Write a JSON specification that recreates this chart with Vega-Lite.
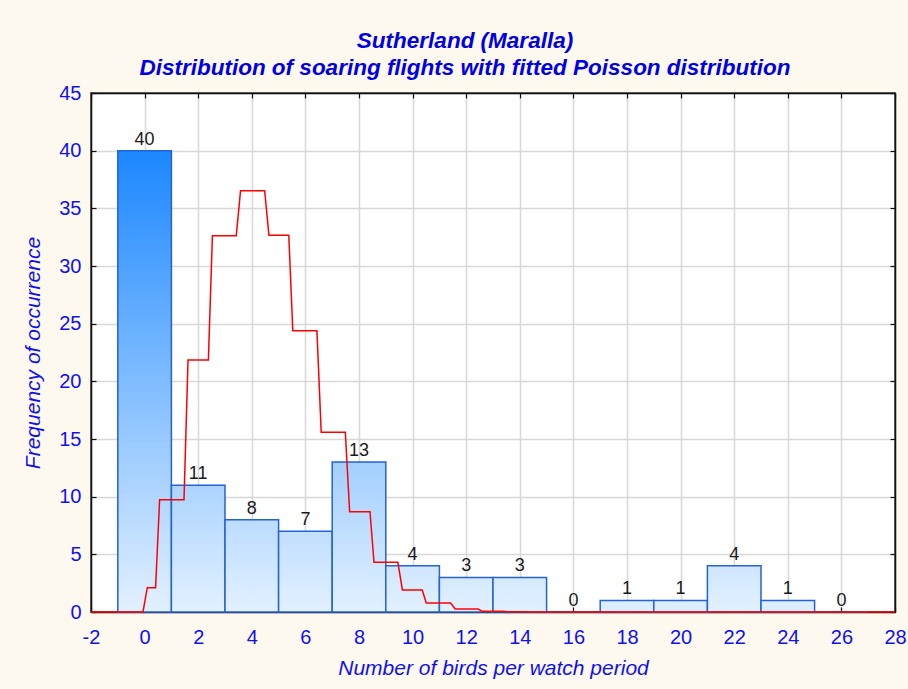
{
  "$schema": "https://vega.github.io/schema/vega-lite/v6.json",
  "autosize": {"type": "none"},
  "width": 804,
  "height": 519,
  "padding": {"left": 91, "top": 93, "right": 13, "bottom": 77},
  "background": "#FEF9EE",
  "title": {
    "text": ["Sutherland (Maralla)", "Distribution of soaring flights with fitted Poisson distribution"],
    "font": "Liberation Sans",
    "fontSize": 22.5,
    "fontStyle": "italic",
    "fontWeight": "bold",
    "color": "#0000E6",
    "anchor": "middle",
    "frame": "group",
    "dx": -28,
    "lineHeight": 27,
    "baseline": "bottom",
    "offset": -19
  },
  "config": {
    "view": {"fill": "white", "stroke": "#111111", "strokeWidth": 1.5},
    "axis": {
      "labelFont": "Liberation Sans",
      "labelFontSize": 20,
      "labelColor": "#1010F0",
      "titleFont": "Liberation Sans",
      "titleFontSize": 21,
      "titleFontStyle": "italic",
      "titleFontWeight": "normal",
      "titleColor": "#1010F0",
      "domainColor": "#111111",
      "domainWidth": 1.5,
      "tickColor": "#111111",
      "tickWidth": 1.2,
      "tickSize": -5,
      "gridColor": "#D8D8D8",
      "gridWidth": 1.5
    }
  },
  "datasets": {
    "bins": [
      {"mid": 0, "lo": -1, "hi": 1, "count": 40},
      {"mid": 2, "lo": 1, "hi": 3, "count": 11},
      {"mid": 4, "lo": 3, "hi": 5, "count": 8},
      {"mid": 6, "lo": 5, "hi": 7, "count": 7},
      {"mid": 8, "lo": 7, "hi": 9, "count": 13},
      {"mid": 10, "lo": 9, "hi": 11, "count": 4},
      {"mid": 12, "lo": 11, "hi": 13, "count": 3},
      {"mid": 14, "lo": 13, "hi": 15, "count": 3},
      {"mid": 16, "lo": 15, "hi": 17, "count": 0},
      {"mid": 18, "lo": 17, "hi": 19, "count": 1},
      {"mid": 20, "lo": 19, "hi": 21, "count": 1},
      {"mid": 22, "lo": 21, "hi": 23, "count": 4},
      {"mid": 24, "lo": 23, "hi": 25, "count": 1},
      {"mid": 26, "lo": 25, "hi": 27, "count": 0}
    ],
    "poisson": [
      {"x": -2, "y": 0}, {"x": -0.06, "y": 0},
      {"x": 0.10, "y": 2.11}, {"x": 0.41, "y": 2.11},
      {"x": 0.56, "y": 9.74}, {"x": 1.47, "y": 9.74},
      {"x": 1.62, "y": 21.85}, {"x": 2.38, "y": 21.85},
      {"x": 2.53, "y": 32.63}, {"x": 3.42, "y": 32.63},
      {"x": 3.58, "y": 36.53}, {"x": 4.48, "y": 36.53},
      {"x": 4.64, "y": 32.66}, {"x": 5.38, "y": 32.66},
      {"x": 5.53, "y": 24.39}, {"x": 6.43, "y": 24.39},
      {"x": 6.59, "y": 15.58}, {"x": 7.49, "y": 15.58},
      {"x": 7.65, "y": 8.70}, {"x": 8.41, "y": 8.70},
      {"x": 8.56, "y": 4.31}, {"x": 9.45, "y": 4.31},
      {"x": 9.62, "y": 1.91}, {"x": 10.36, "y": 1.91},
      {"x": 10.51, "y": 0.78}, {"x": 11.42, "y": 0.78},
      {"x": 11.59, "y": 0.26}, {"x": 12.44, "y": 0.26},
      {"x": 12.61, "y": 0.06}, {"x": 13.36, "y": 0.06},
      {"x": 13.54, "y": 0.02}, {"x": 14.25, "y": 0.02},
      {"x": 14.4, "y": 0}, {"x": 28, "y": 0}
    ]
  },
  "resolve": {"axis": {"x": "independent", "y": "independent"}},
  "layer": [
    {
      "data": {"name": "bins"},
      "mark": {"type": "rect", "stroke": "#2462D8", "strokeWidth": 1.5},
      "encoding": {
        "x": {
          "field": "lo", "type": "quantitative",
          "scale": {"domain": [-2, 28], "nice": false, "zero": false},
          "axis": {
            "orient": "bottom",
            "values": [-2, 0, 2, 4, 6, 8, 10, 12, 14, 16, 18, 20, 22, 24, 26, 28],
            "labelExpr": "datum.value < 0 ? '-' + abs(datum.value) : datum.label",
            "labelPadding": 20,
            "labelFlush": false,
            "title": "Number of birds per watch period",
            "titlePadding": 10
          }
        },
        "x2": {"field": "hi"},
        "y": {
          "field": "count", "type": "quantitative",
          "scale": {"domain": [0, 45], "nice": false},
          "axis": {
            "orient": "left",
            "values": [0, 5, 10, 15, 20, 25, 30, 35, 40, 45],
            "labelPadding": 15,
            "labelFlush": false,
            "title": "Frequency of occurrence",
            "titlePadding": 15
          }
        },
        "y2": {"datum": 0},
        "fill": {
          "condition": [
            {"test": "datum.count === 40", "value": {"gradient": "linear", "x1": 0, "y1": 0, "x2": 0, "y2": 1, "stops": [{"offset": 0, "color": "#1C87FF"}, {"offset": 1, "color": "#E3F1FF"}]}},
            {"test": "datum.count === 13", "value": {"gradient": "linear", "x1": 0, "y1": -2.077, "x2": 0, "y2": 1, "stops": [{"offset": 0, "color": "#1C87FF"}, {"offset": 1, "color": "#E3F1FF"}]}},
            {"test": "datum.count === 11", "value": {"gradient": "linear", "x1": 0, "y1": -2.636, "x2": 0, "y2": 1, "stops": [{"offset": 0, "color": "#1C87FF"}, {"offset": 1, "color": "#E3F1FF"}]}},
            {"test": "datum.count === 8", "value": {"gradient": "linear", "x1": 0, "y1": -4, "x2": 0, "y2": 1, "stops": [{"offset": 0, "color": "#1C87FF"}, {"offset": 1, "color": "#E3F1FF"}]}},
            {"test": "datum.count === 7", "value": {"gradient": "linear", "x1": 0, "y1": -4.714, "x2": 0, "y2": 1, "stops": [{"offset": 0, "color": "#1C87FF"}, {"offset": 1, "color": "#E3F1FF"}]}},
            {"test": "datum.count === 4", "value": {"gradient": "linear", "x1": 0, "y1": -9, "x2": 0, "y2": 1, "stops": [{"offset": 0, "color": "#1C87FF"}, {"offset": 1, "color": "#E3F1FF"}]}},
            {"test": "datum.count === 3", "value": {"gradient": "linear", "x1": 0, "y1": -12.333, "x2": 0, "y2": 1, "stops": [{"offset": 0, "color": "#1C87FF"}, {"offset": 1, "color": "#E3F1FF"}]}}
          ],
          "value": "#DDEEFF"
        }
      }
    },
    {
      "data": {"name": "bins"},
      "mark": {"type": "text", "font": "Liberation Sans", "fontSize": 18, "color": "#1A1A1A", "baseline": "alphabetic", "dy": -6},
      "encoding": {
        "x": {"field": "mid", "type": "quantitative", "axis": null},
        "y": {"field": "count", "type": "quantitative", "axis": null},
        "text": {"field": "count", "type": "quantitative"}
      }
    },
    {
      "data": {"name": "poisson"},
      "mark": {"type": "line", "color": "#FF0000", "strokeWidth": 1.5, "interpolate": "linear"},
      "encoding": {
        "x": {
          "field": "x", "type": "quantitative",
          "axis": {"orient": "top", "values": [-2, 0, 2, 4, 6, 8, 10, 12, 14, 16, 18, 20, 22, 24, 26, 28], "labels": false, "grid": false, "title": null}
        },
        "y": {
          "field": "y", "type": "quantitative",
          "axis": {"orient": "right", "values": [0, 5, 10, 15, 20, 25, 30, 35, 40, 45], "labels": false, "grid": false, "title": null}
        }
      }
    }
  ]
}
